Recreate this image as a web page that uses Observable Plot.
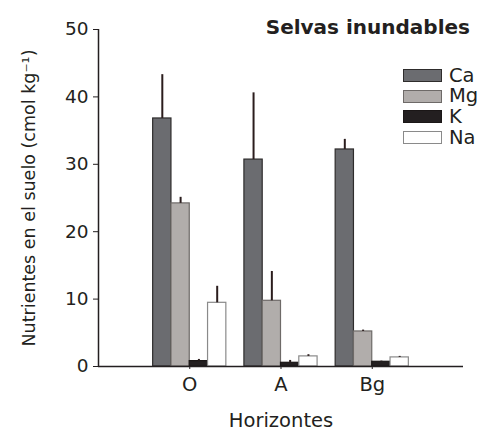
<!DOCTYPE html>
<html>
<head>
<meta charset="utf-8">
<script src="https://cdn.jsdelivr.net/npm/d3@7"></script>
<script src="https://cdn.jsdelivr.net/npm/@observablehq/plot@0.6"></script>
<style>
  body { margin: 0; background: #ffffff; }
  #wrap { position: relative; width: 487px; height: 435px; font-family: "DejaVu Sans", sans-serif; color: #231f20; }
  #title { position: absolute; right: 17px; top: 17px; font-size: 20px; font-weight: bold; line-height: 1; white-space: nowrap; }
  #legend { position: absolute; left: 403px; top: 65px; }
  .row { display: flex; align-items: center; height: 20.7px; }
  .sw { width: 37px; height: 11px; border: 1px solid #333; box-sizing: content-box; margin-right: 7px; }
  .lab { font-size: 19.5px; line-height: 1; }
</style>
</head>
<body>
<div id="wrap">
  <div id="chart"></div>
  <div id="title">Selvas inundables</div>
  <div id="legend"></div>
</div>
<script>
const horizons = ["O", "A", "Bg"];
const nutrients = ["Ca", "Mg", "K", "Na"];
const caMean = [36.8, 30.7, 32.2];
const caErr  = [6.5, 9.9, 1.5];
const mgMean = [24.2, 9.75, 5.2];
const mgErr  = [0.9, 4.35, 0.2];
const kMean  = [0.8, 0.55, 0.7];
const kErr   = [0.25, 0.35, 0.1];
const naMean = [9.45, 1.5, 1.35];
const naErr  = [2.45, 0.25, 0.15];
const yTicks = [0, 10, 20, 30, 40, 50];

const fills   = ["#6b6c70", "#b1adab", "#231f20", "#ffffff"];
const strokes = ["#2e2c2c", "#6e6a68", "#1a1616", "#8a8a8a"];

const means = [caMean, mgMean, kMean, naMean];
const errs  = [caErr, mgErr, kErr, naErr];
const groupWidth = 0.802;
const barW = groupWidth / nutrients.length;

const data = horizons.flatMap((h, i) => nutrients.map((n, j) => ({
  horizon: h, nutrient: n, value: means[j][i], err: errs[j][i],
  x1: i - groupWidth / 2 + j * barW, x2: i - groupWidth / 2 + (j + 1) * barW,
  xc: i - groupWidth / 2 + (j + 0.5) * barW
})));

const chart = Plot.plot({
  width: 487, height: 435,
  marginLeft: 98, marginRight: 24, marginTop: 29, marginBottom: 69,
  style: { fontFamily: "DejaVu Sans, sans-serif", fontSize: "18px", background: "transparent", color: "#231f20" },
  x: { domain: [-1, 3], axis: null },
  y: { domain: [0, 50], axis: null },
  color: { domain: nutrients, range: fills },
  marks: [
    Plot.rectY(data, { x1: "x1", x2: "x2", y1: 0, y2: "value", fill: "nutrient",
      stroke: d => strokes[nutrients.indexOf(d.nutrient)], strokeWidth: 1.2 }),
    Plot.ruleX(data, { x: "xc", y1: "value", y2: d => d.value + d.err, stroke: "#2b1d1d", strokeWidth: 2 }),
    Plot.axisY({ ticks: yTicks, tickSize: 5, tickPadding: 5, stroke: "#231f20",
      label: null, fontSize: 18.5 }),
    Plot.axisY({ ticks: [], tickSize: 0,
      label: "Nutrientes en el suelo (cmol kg\u207B\u00B9)", labelAnchor: "center", labelArrow: "none", labelOffset: 76,
      fontSize: 17.5 }),
    Plot.axisX({ ticks: [0, 1, 2], tickFormat: i => horizons[i], tickSize: 3, tickPadding: 8,
      label: "Horizontes", labelAnchor: "center", labelArrow: "none", labelOffset: 60, fontSize: 19.5 }),
    Plot.ruleY([0], { stroke: "#231f20", strokeWidth: 1.5 }),
    Plot.ruleX([-1], { y1: 0, y2: 50, stroke: "#231f20", strokeWidth: 1.5 })
  ]
});
document.getElementById("chart").appendChild(chart);

const leg = document.getElementById("legend");
nutrients.forEach((n, j) => {
  const row = document.createElement("div");
  row.className = "row";
  const sw = document.createElement("div");
  sw.className = "sw";
  sw.style.background = fills[j];
  sw.style.borderColor = strokes[j];
  const lab = document.createElement("span");
  lab.className = "lab";
  lab.textContent = n;
  row.appendChild(sw); row.appendChild(lab);
  leg.appendChild(row);
});
</script>
</body>
</html>
